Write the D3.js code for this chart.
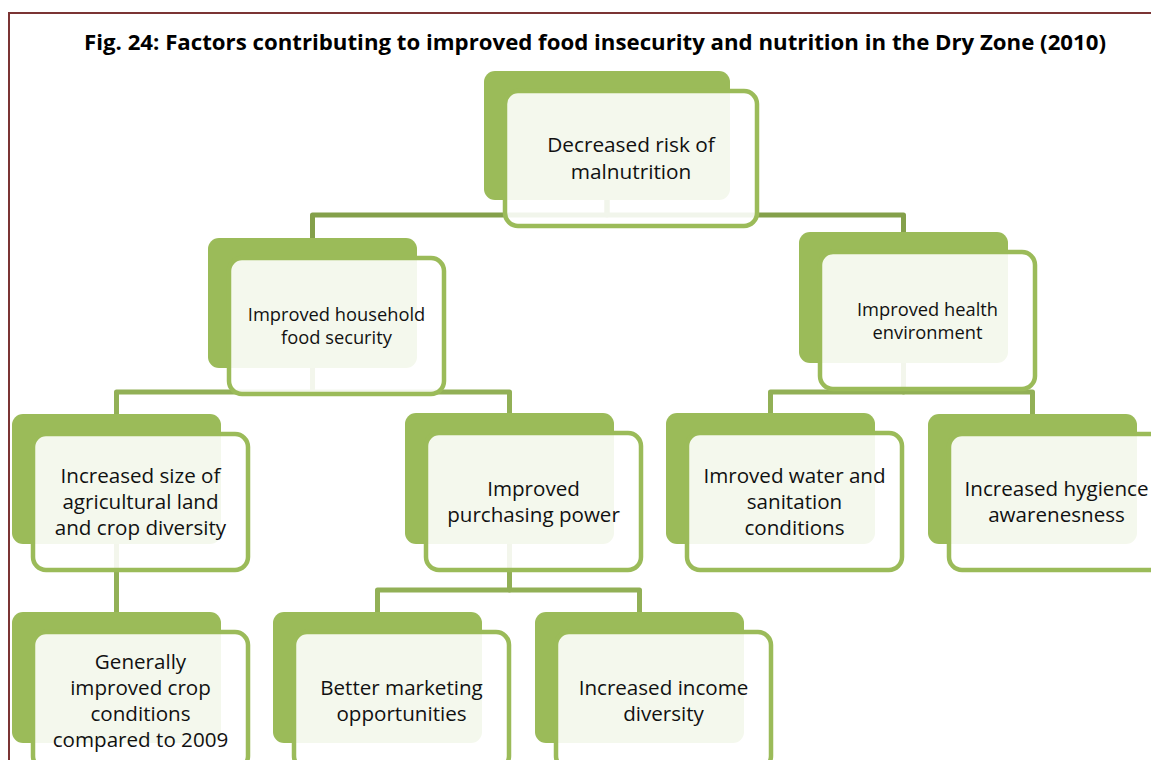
<!DOCTYPE html>
<html>
<head>
<meta charset="utf-8">
<script src="https://cdn.jsdelivr.net/npm/d3@7"></script>
<style>
  html, body { margin: 0; padding: 0; background: #fff; }
  svg { display: block; }
</style>
</head>
<body>
<div id="vis"></div>
<script>
// --- data ---
var title = 'Fig. 24: Factors contributing to improved food insecurity and nutrition in the Dry Zone (2010)';

var nodeIds = ['root', 'food', 'health', 'land', 'power', 'water', 'hygiene', 'crop', 'market', 'income'];
var nodeLabels = [
    ['Decreased risk of', 'malnutrition'],
    ['Improved household', 'food security'],
    ['Improved health', 'environment'],
    ['Increased size of', 'agricultural land', 'and crop diversity'],
    ['Improved', 'purchasing power'],
    ['Imroved water and', 'sanitation', 'conditions'],
    ['Increased hygience', 'awarenesness'],
    ['Generally', 'improved crop', 'conditions', 'compared to 2009'],
    ['Better marketing', 'opportunities'],
    ['Increased income', 'diversity']
];
var nodeParents = [null, 'root', 'root', 'food', 'food', 'health', 'health', 'land', 'power', 'power'];
var nodeLevels = [0, 1, 1, 2, 2, 2, 2, 3, 3, 3];

// --- layout (back shape of each node: left, top, width, height) ---
var layout = {
    root:    [484, 71, 246, 129],
    food:    [208, 238, 209, 130],
    health:  [799, 232, 209, 131],
    land:    [12, 414, 209, 130],
    power:   [405, 413, 209, 131],
    water:   [666, 413, 209, 131],
    hygiene: [928, 414, 209, 130],
    crop:    [12, 612, 209, 131],
    market:  [273, 612, 209, 131],
    income:  [535, 612, 209, 131]
};
// y of the horizontal connector bar below each parent
var barY = { root: 215, food: 392, health: 392, land: 578, power: 590 };
var fontSize = [20.8, 18.3, 20.6, 20.6];
var lineGap = [27, 23, 26, 26];

var W = 1151, H = 760;
var green = '#9bbb59';
var font = '"Open Sans", sans-serif';

var svg = d3.select('#vis')
    .append('svg')
        .attr('width', W)
        .attr('height', H);

// frame
svg.append('path')
    .attr('d', 'M9,' + H + ' V13 H' + W)
    .attr('fill', 'none')
    .attr('stroke', '#7b3434')
    .attr('stroke-width', 2);

svg.append('text')
    .attr('x', 595)
    .attr('y', 50)
    .attr('text-anchor', 'middle')
    .attr('font-family', font)
    .attr('font-weight', 'bold')
    .attr('font-size', 21)
    .attr('textLength', 1022)
    .attr('lengthAdjust', 'spacingAndGlyphs')
    .attr('fill', '#000')
    .text(title);

var nodes = nodeIds.map(function(id, i) {
    var b = layout[id];
    return {
        id: id, label: nodeLabels[i], parent: nodeParents[i], level: nodeLevels[i],
        x: b[0], y: b[1], w: b[2], h: b[3]
    };
});
var byId = {};
nodes.forEach(function(n) { byId[n.id] = n; });

// connectors
var links = nodes.filter(function(n) { return n.parent; });
svg.append('g')
    .selectAll('path')
    .data(links)
    .enter()
    .append('path')
        .attr('d', function(d) {
            var p = byId[d.parent];
            var px = p.x + p.w / 2, cx = d.x + d.w / 2;
            var my = barY[d.parent];
            return 'M' + px + ',' + (p.y + p.h) + ' V' + my + ' H' + cx + ' V' + d.y;
        })
        .attr('fill', 'none')
        .attr('stroke', function(d) { return d.parent === 'root' ? '#84a04a' : '#92b056'; })
        .attr('stroke-width', 5)
        .attr('stroke-linejoin', 'round');

var g = svg.append('g')
    .selectAll('g')
    .data(nodes)
    .enter()
    .append('g');

g.append('rect')
    .attr('x', function(d) { return d.x; })
    .attr('y', function(d) { return d.y; })
    .attr('width', function(d) { return d.w; })
    .attr('height', function(d) { return d.h; })
    .attr('rx', 11)
    .attr('fill', green);

g.append('rect')
    .attr('x', function(d) { return d.x + 21; })
    .attr('y', function(d) { return d.y + 20; })
    .attr('width', function(d) { return d.w + 6; })
    .attr('height', function(d) { return d.h + 6; })
    .attr('rx', 13)
    .attr('fill', '#ffffff')
    .attr('fill-opacity', 0.89)
    .attr('stroke', green)
    .attr('stroke-width', 4.5);

g.append('text')
    .attr('text-anchor', 'middle')
    .attr('font-family', font)
    .attr('font-size', function(d) { return fontSize[d.level]; })
    .attr('fill', '#111')
    .each(function(d) {
        var t = d3.select(this);
        var cx = d.x + 21 + (d.w + 6) / 2;
        var cy = d.y + 20 + (d.h + 6) / 2;
        var gap = lineGap[d.level];
        var y0 = cy - (d.label.length - 1) * gap / 2 + fontSize[d.level] * 0.36;
        d.label.forEach(function(line, i) {
            t.append('tspan')
                .attr('x', cx)
                .attr('y', y0 + i * gap)
                .text(line);
        });
    });
</script>
</body>
</html>
